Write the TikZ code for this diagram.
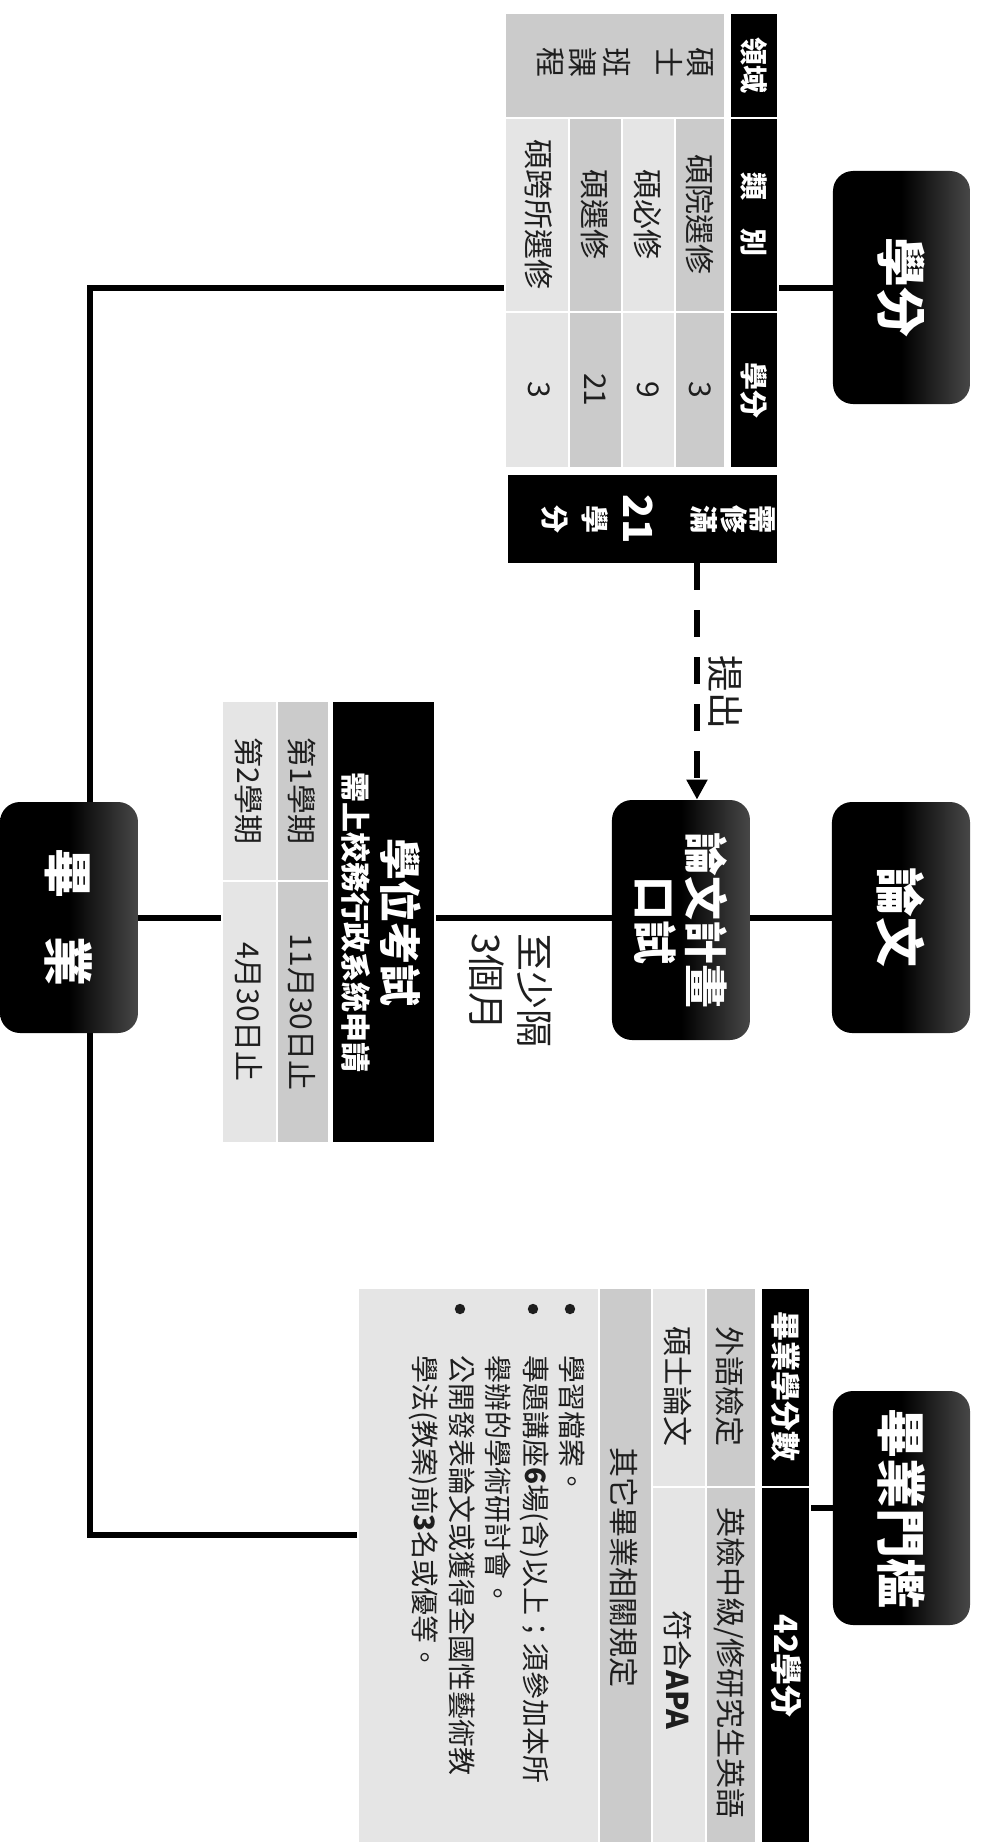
\documentclass[tikz,border=0pt]{standalone}
\usepackage{fontspec}
\setmainfont{Noto Sans CJK TC}
\usetikzlibrary{arrows.meta}
\definecolor{mg}{HTML}{CBCBCB}
\definecolor{lg}{HTML}{E5E5E5}
\definecolor{tx}{HTML}{1E1E1E}
\newcommand\myfs[1]{\fontsize{#1}{#1}\selectfont}
\tikzset{
  bigbox/.style={rounded corners=10pt, left color=black, right color=black!72, middle color=black,
    text=white, font=\bfseries\myfs{25}, inner sep=0pt, align=center},
  conn/.style={line width=3pt, black},
  hdr/.style={text=white, font=\bfseries\myfs{14}, inner sep=0pt},
  ctext/.style={text=tx, font=\myfs{15}, inner sep=0pt},
  btext/.style={text=tx, font=\myfs{14}, inner sep=0pt, anchor=west},
  cellw/.style={draw=white, line width=1pt},
  frame/.style={draw=none, inner sep=0pt}
}
\begin{document}
\begin{tikzpicture}[x=0.5pt,y=-0.5pt]
\begin{scope}[rotate=-90, transform shape]
\fill[white] (0,0) rectangle (1846,981);
\useasboundingbox (0,0) rectangle (1846,981);
\coordinate (busv) at (0,891);
\coordinate (busr) at (1535,0);
\coordinate (arrowv) at (0,284);

% invisible table frames
\node[frame, minimum width=227.5pt, minimum height=136.5pt] (tab1) at (240.5,339.5) {};
\node[frame, minimum width=221pt, minimum height=106.5pt] (tab2) at (922,652.5) {};
\node[frame, minimum width=277.5pt, minimum height=226pt] (tab3) at (1565.5,397) {};

% bus line
\draw[conn] (287.5,0 |- tab1.south) -- (287.5,0 |- busv) -- (busr |- busv) -- (busr |- tab3.south);

% boxes
\node[bigbox, minimum width=116.5pt, minimum height=68.5pt] (xuefen) at (287.5,79.5) {學分};
\node[bigbox, minimum width=115.5pt, minimum height=69pt] (lunwen) at (917.5,80) {論文};
\node[bigbox, minimum width=117pt, minimum height=68.5pt] (menkan) at (1508,79.5) {畢業門檻};
\node[bigbox, minimum width=120pt, minimum height=69pt, font=\bfseries\fontsize{22}{25.5}\selectfont] (koushi) at (920,300) {論文計畫\\口試};
\node[bigbox, minimum width=115.5pt, minimum height=69pt] (biye) at (917.5,912) {畢\hspace{19pt}業};

% connectors
\draw[conn] (xuefen.south) -- (xuefen.south |- tab1.north);
\draw[conn] (lunwen.south) -- (lunwen.south |- koushi.north);
\draw[conn] (lunwen.center |- koushi.south) -- (lunwen.center |- tab2.north);
\draw[conn] (biye.north |- tab2.south) -- (biye.north);
\draw[conn] (menkan.south) -- (menkan.south |- tab3.north);

% ---------- table 1 ----------
\filldraw[fill=black, cellw] (13,203) rectangle (118,251);
\filldraw[fill=black, cellw] (118,203) rectangle (312,251);
\filldraw[fill=black, cellw] (312,203) rectangle (468,251);
\filldraw[fill=mg, cellw] (13,256) rectangle (118,476);
\filldraw[fill=mg, cellw] (118,256) rectangle (312,306);
\filldraw[fill=mg, cellw] (312,256) rectangle (468,306);
\filldraw[fill=lg, cellw] (118,306) rectangle (312,359);
\filldraw[fill=lg, cellw] (312,306) rectangle (468,359);
\filldraw[fill=mg, cellw] (118,359) rectangle (312,412);
\filldraw[fill=mg, cellw] (312,359) rectangle (468,412);
\filldraw[fill=lg, cellw] (118,412) rectangle (312,476);
\filldraw[fill=lg, cellw] (312,412) rectangle (468,476);
\node[hdr] (h11) at (65.5,227) {領域};
\node[hdr] (h12) at (215,227) {類　別};
\node[hdr] (h13) at (390,227) {學分};
\node[ctext] (d1) at (63,281) {碩};
\node[ctext] (d2) at (63,311) {士};
\node[ctext] (d3) at (63,364) {班};
\node[ctext] (d4) at (63,398) {課};
\node[ctext] (d5) at (63,430) {程};
\node[ctext] (r1a) at (215,281) {碩院選修};
\node[ctext] (r1b) at (390,281) {3};
\node[ctext] (r2a) at (215,333) {碩必修};
\node[ctext] (r2b) at (390,333) {9};
\node[ctext] (r3a) at (215,386) {碩選修};
\node[ctext] (r3b) at (390,386) {21};
\node[ctext] (r4a) at (215,442) {碩跨所選修};
\node[ctext] (r4b) at (390,442) {3};

% requirement box
\node[fill=black, minimum width=44pt, minimum height=134.5pt, inner sep=0pt] (req) at (519,338.5) {};
\node[hdr, font=\bfseries\myfs{14}] (q1) at (519,218) {需};
\node[hdr, font=\bfseries\myfs{14}] (q2) at (519,247) {修};
\node[hdr, font=\bfseries\myfs{14}] (q3) at (519,277) {滿};
\node[hdr, font=\bfseries\myfs{20}] (q4) at (519,343) {21};
\node[hdr, font=\bfseries\myfs{14}] (q5) at (519,386) {學};
\node[hdr, font=\bfseries\myfs{14}] (q6) at (519,426) {分};

% dashed arrow
\draw[conn, dash pattern=on 13.5pt off 10pt, -{Triangle[length=10pt,width=10pt]}]
  (req.east |- arrowv) -- (koushi.west |- arrowv);
\node[ctext, font=\myfs{18.5}] (tichu) at (692,255) {提出};

% ---------- table 2 ----------
\filldraw[fill=black, cellw] (701,546) rectangle (1143,649);
\filldraw[fill=mg, cellw] (701,652) rectangle (881,704);
\filldraw[fill=mg, cellw] (881,652) rectangle (1143,704);
\filldraw[fill=lg, cellw] (701,704) rectangle (881,759);
\filldraw[fill=lg, cellw] (881,704) rectangle (1143,759);
\node[hdr, font=\bfseries\myfs{21}] (ex1) at (922,580) {學位考試};
\node[hdr, font=\bfseries\myfs{15}] (ex2) at (922,625) {需上校務行政系統申請};
\node[ctext] (s1a) at (791,679) {第1學期};
\node[ctext] (s1b) at (1012,679) {11月30日止};
\node[ctext] (s2a) at (791,732) {第2學期};
\node[ctext] (s2b) at (1012,732) {4月30日止};
\node[ctext, font=\myfs{19}, anchor=west] (gap1) at (933,446) {至少隔};
\node[ctext, font=\myfs{19}, anchor=west] (gap2) at (933,494) {3個月};

% ---------- table 3 ----------
\filldraw[fill=black, cellw] (1288,171) rectangle (1487,220);
\filldraw[fill=black, cellw] (1487,171) rectangle (1843,220);
\filldraw[fill=mg, cellw] (1288,225) rectangle (1487,275);
\filldraw[fill=mg, cellw] (1487,225) rectangle (1843,275);
\filldraw[fill=lg, cellw] (1288,275) rectangle (1487,329);
\filldraw[fill=lg, cellw] (1487,275) rectangle (1843,329);
\filldraw[fill=mg, cellw] (1288,329) rectangle (1843,382);
\filldraw[fill=lg, cellw] (1288,382) rectangle (1843,623);
\node[hdr, font=\bfseries\myfs{15}] (g1) at (1386,195) {畢業學分數};
\node[hdr, font=\bfseries\myfs{16}] (g2) at (1666,195) {42學分};
\node[ctext] (g3) at (1386,251) {外語檢定};
\node[ctext] (g4) at (1663,251) {英檢中級/修研究生英語};
\node[ctext] (g5) at (1386,303) {碩士論文};
\node[ctext] (g6) at (1670,303) {符合\textbf{APA}};
\node[ctext] (g7) at (1567,357) {其它畢業相關規定};
\fill[tx] (1309,411) circle (2.6pt);
\fill[tx] (1309,448) circle (2.6pt);
\fill[tx] (1309,521) circle (2.6pt);
\node[btext] (b1) at (1355,409) {學習檔案。};
\node[btext] (b2) at (1355,446) {專題講座\textbf{6}場(含)以上；須參加本所};
\node[btext] (b3) at (1355,483) {舉辦的學術研討會。};
\node[btext] (b4) at (1355,519) {公開發表論文或獲得全國性藝術教};
\node[btext] (b5) at (1355,557) {學法(教案)前\textbf{3}名或優等。};
\end{scope}
\end{tikzpicture}
\end{document}
